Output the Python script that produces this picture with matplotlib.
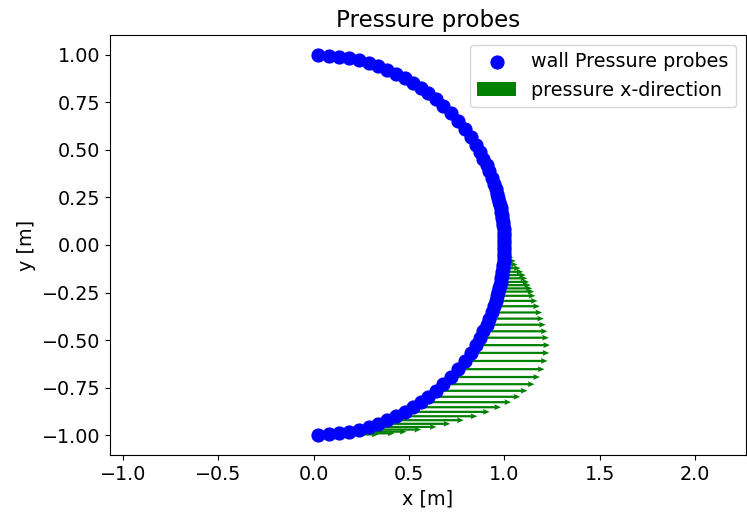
import numpy as np
import matplotlib

matplotlib.use("Agg")
import matplotlib.pyplot as plt

# probe angles on the unit-radius wall [deg]
angle_lower = [-88.6, -85.4, -82.3, -79.2, -76.2, -73.2, -70.2, -67.2, -64.3, -61.4,
               -58.6, -55.8, -53.0, -50.1, -47.1, -44.0, -40.8, -37.6, -34.6, -31.8,
               -29.2, -27.0, -24.8, -22.8, -20.8, -18.8, -17.1, -15.5, -14.2, -13.2,
               -12.2, -11.2, -10.1, -9.1, -8.1, -7.0, -5.9, -4.8, -3.7, -2.6,
               -1.5, -0.5]
angle_upper = [0.5, 1.5, 2.6, 3.7, 4.8, 5.9, 7.0, 8.1, 9.1, 10.1,
               11.2, 12.2, 13.2, 14.2, 15.5, 17.1, 18.8, 20.8, 22.8, 24.8,
               27.0, 29.2, 31.8, 34.6, 37.6, 40.8, 44.0, 47.1, 50.1, 53.0,
               55.8, 58.6, 61.4, 64.3, 67.2, 70.2, 73.2, 76.2, 79.2, 82.3,
               85.4, 88.6]

# x-direction pressure arrows on the lower half (same order as angle_lower)
pressure_x = [0.175, 0.26, 0.29, 0.30, 0.325, 0.355, 0.378, 0.40, 0.425, 0.445,
              0.462, 0.474, 0.482, 0.480, 0.478, 0.468, 0.454, 0.435, 0.413, 0.39,
              0.361, 0.336, 0.31, 0.286, 0.264, 0.240, 0.219, 0.200, 0.188, 0.174,
              0.162, 0.150, 0.136, 0.125, 0.109, 0.093, 0.075, 0.064, 0.049, 0.039,
              0.025, 0.010]

plt.rcParams.update({"font.size": 13.8})

fig = plt.figure(figsize=(7.47, 5.2), dpi=100)
ax = fig.add_axes([0.1473, 0.125, 0.851, 0.8077])

th_all = np.deg2rad(np.array(angle_lower + angle_upper))
th_low = np.deg2rad(np.array(angle_lower))
xs, ys = np.cos(th_all), np.sin(th_all)
xl, yl = np.cos(th_low), np.sin(th_low)

ax.scatter(xs, ys, s=85, color="blue", zorder=3, label="wall Pressure probes")
ax.quiver(xl, yl, np.array(pressure_x), np.zeros(len(pressure_x)),
          angles="xy", scale_units="xy", scale=1, color="green",
          width=0.0035, headwidth=2.6, headlength=3.0, headaxislength=2.7,
          zorder=2, label="pressure x-direction")

ax.set_xlim(-1.068, 2.267)
ax.set_ylim(-1.105, 1.105)
ax.set_xticks(np.arange(-1.0, 2.01, 0.5))
ax.set_yticks(np.arange(-1.0, 1.01, 0.25))
ax.set_xlabel("x [m]")
ax.set_ylabel("y [m]")
ax.set_title("Pressure probes", fontsize=16.6)
ax.legend(loc="upper right")

fig.savefig("out.png", dpi=100)
